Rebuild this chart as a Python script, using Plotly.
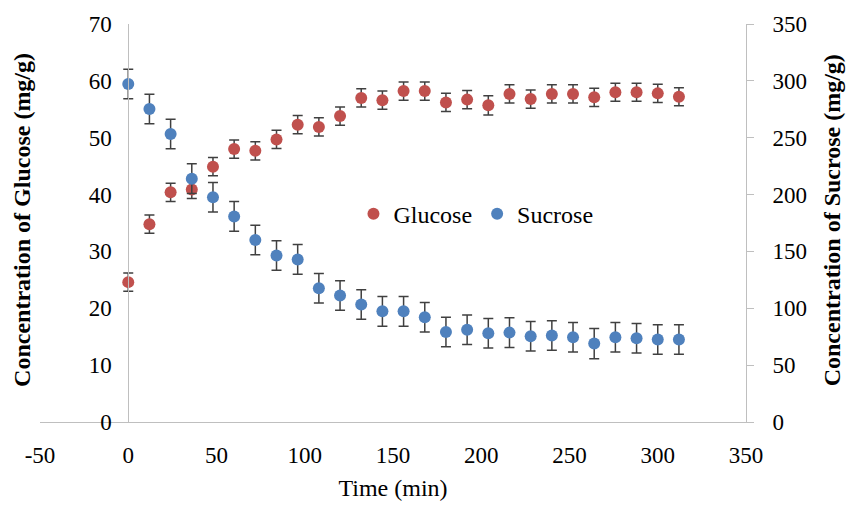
import plotly.graph_objects as go

time_min = [0, 12, 24, 36, 48, 60, 72, 84, 96, 108, 120, 132, 144, 156, 168,
            180, 192, 204, 216, 228, 240, 252, 264, 276, 288, 300, 312]
glucose = [24.6, 34.8, 40.4, 40.9, 44.9, 48.0, 47.7, 49.7, 52.3, 51.9, 53.8,
           57.0, 56.6, 58.2, 58.2, 56.2, 56.7, 55.7, 57.7, 56.8, 57.7, 57.7,
           57.1, 58.0, 58.0, 57.8, 57.2]
glucose_err = [1.6, 1.6, 1.6, 1.6, 1.6, 1.6, 1.6, 1.6, 1.6, 1.6, 1.6,
               1.6, 1.6, 1.6, 1.6, 1.6, 1.6, 1.7, 1.6, 1.6, 1.6, 1.6,
               1.6, 1.6, 1.6, 1.6, 1.6]
sucrose = [297.2, 275.3, 253.3, 214.0, 197.6, 180.8, 160.0, 146.5, 143.0, 117.6,
           111.2, 103.4, 97.3, 97.3, 92.1, 79.1, 81.2, 78.0, 78.6, 75.4, 76.0,
           74.5, 69.0, 74.5, 73.7, 72.5, 72.5]
sucrose_err = [13, 13, 13, 13, 13, 13, 13, 13, 13, 13, 13, 13, 13, 13, 13,
               13, 13, 13, 13, 13, 13, 13, 13.3, 13, 13, 13, 13]

x_ticks = [-50, 0, 50, 100, 150, 200, 250, 300, 350]
x_tick_text = ["-50", "0", "50", "100", "150", "200", "250", "300", "350"]
left_ticks = [0, 10, 20, 30, 40, 50, 60, 70]
right_ticks = [0, 50, 100, 150, 200, 250, 300, 350]

FONT = "Liberation Serif"
AX = "#BFBFBF"
ERR = "#404040"

fig = go.Figure()
fig.add_trace(go.Scatter(
    x=time_min, y=glucose, mode="markers", name="Glucose",
    marker=dict(color="#C0504D", size=12),
    error_y=dict(type="data", array=glucose_err, color=ERR, thickness=1.5, width=5),
    yaxis="y"))
fig.add_trace(go.Scatter(
    x=time_min, y=sucrose, mode="markers", name="Sucrose",
    marker=dict(color="#4F81BD", size=12),
    error_y=dict(type="data", array=sucrose_err, color=ERR, thickness=1.5, width=5),
    yaxis="y2"))

fig.update_layout(
    width=849, height=508,
    margin=dict(l=40, r=103, t=20, b=84),
    paper_bgcolor="white", plot_bgcolor="white",
    font=dict(family=FONT, size=23, color="black"),
    showlegend=True,
    legend=dict(orientation="h", x=0.444, y=0.522, xanchor="left", yanchor="middle",
                font=dict(size=24, family=FONT), itemwidth=30,
                bgcolor="rgba(0,0,0,0)", tracegroupgap=0),
    xaxis=dict(range=[-50, 350], tickvals=x_ticks, ticktext=x_tick_text,
               showgrid=False, zeroline=False,
               showline=True, linecolor=AX, linewidth=1, ticks="",
               ticklabelstandoff=12, tickfont=dict(size=23),
               title=dict(text="Time (min)", font=dict(size=24), standoff=12),
               domain=[0, 1]),
    yaxis=dict(range=[0, 70], tickvals=left_ticks, showgrid=False, zeroline=False,
               showline=True, linecolor=AX, linewidth=1, ticks="",
               anchor="free", position=0.125, ticklabelstandoff=12,
               tickfont=dict(size=23)),
    yaxis2=dict(range=[0, 350], tickvals=right_ticks, showgrid=False, zeroline=False,
                showline=True, linecolor=AX, linewidth=1, ticks="outside",
                ticklen=7, tickcolor=AX, overlaying="y", side="right", anchor="x",
                ticklabelstandoff=14, tickfont=dict(size=23)),
    annotations=[
        dict(text="<b>Concentration of Glucose (mg/g)</b>", xref="paper", yref="paper",
             x=-0.0245, y=0.507, textangle=-90, showarrow=False,
             xanchor="center", yanchor="middle", font=dict(size=24, family=FONT)),
        dict(text="<b>Concentration of Sucrose (mg/g)</b>", xref="paper", yref="paper",
             x=1.122, y=0.507, textangle=-90, showarrow=False,
             xanchor="center", yanchor="middle", font=dict(size=24, family=FONT)),
    ],
)

fig.write_html("out.html")
